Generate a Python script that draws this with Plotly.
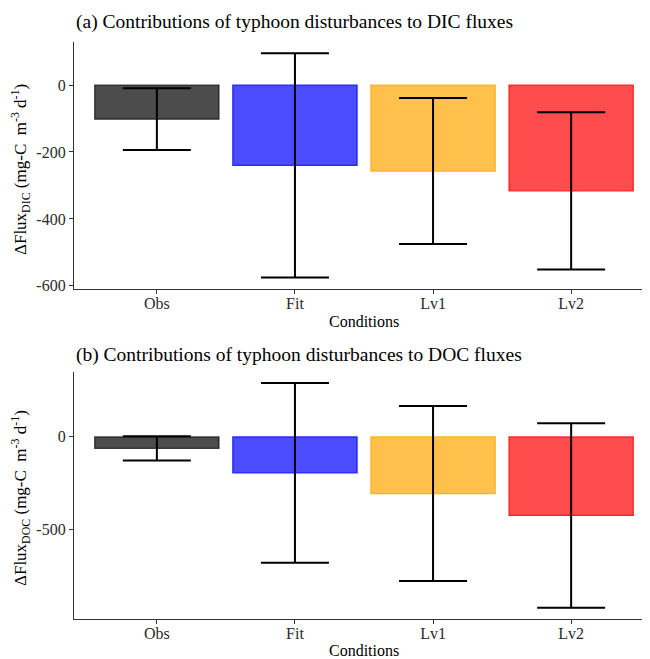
import plotly.graph_objects as go
from plotly.subplots import make_subplots

conditions = ["Obs", "Fit", "Lv1", "Lv2"]
dic_mean = [-102, -240, -257, -316]
dic_sd = [92, 335, 218, 235]
doc_mean = [-62, -194, -306, -424]
doc_sd = [66, 485, 472, 498]
fill_colors = ["rgba(0,0,0,0.7)", "rgba(0,0,255,0.7)", "rgba(255,165,0,0.7)", "rgba(255,0,0,0.7)"]
line_colors = ["rgba(0,0,0,0.7)", "rgba(0,0,255,0.8)", "rgba(255,165,0,0.8)", "rgba(255,0,0,0.8)"]
dic_ticks = [0, -200, -400, -600]
doc_ticks = [0, -500]

FONT = "Liberation Serif, Times New Roman, serif"

fig = make_subplots(rows=2, cols=1, vertical_spacing=0.1)

for row, means, sds in [(1, dic_mean, dic_sd), (2, doc_mean, doc_sd)]:
    fig.add_trace(go.Bar(
        x=conditions, y=means,
        marker=dict(color=fill_colors, line=dict(color=line_colors, width=1.2)),
        error_y=dict(type="data", array=sds, visible=True, color="black", thickness=2, width=34),
        showlegend=False,
    ), row=row, col=1)

def yrange(m, s):
    hi = max(a + b for a, b in zip(m, s))
    lo = min(a - b for a, b in zip(m, s))
    pad = (hi - lo) * 0.05
    return [lo - pad, hi + pad]

axis_common = dict(showline=True, linecolor="#333333", linewidth=1.2, ticks="outside",
                   ticklen=4, tickcolor="#333333", tickwidth=1.1, showgrid=False, zeroline=False,
                   automargin=False,
                   tickfont=dict(family=FONT, size=16, color="#2a2a2a"))

fig.update_xaxes(**axis_common, range=[-0.6, 3.571], ticklabelstandoff=-4)
fig.update_yaxes(**axis_common)
fig.update_yaxes(range=yrange(dic_mean, dic_sd), tickvals=dic_ticks,
                 ticktext=[str(v) for v in dic_ticks], row=1, col=1)
fig.update_yaxes(range=yrange(doc_mean, doc_sd), tickvals=doc_ticks,
                 ticktext=[str(v) for v in doc_ticks], row=2, col=1)

fig.layout.yaxis.domain = [0.5724, 1.0]
fig.layout.yaxis2.domain = [0.0, 0.4286]

# page body has an 8px default margin, so the figure is drawn 8px in from the window edge
OFF = 8
W, H = 650 - OFF, 659 - OFF
ml, mr, mt, mb = 74 - OFF, 0, 42 - OFF, 40
pw, ph = W - ml - mr, H - mt - mb

def px_to_paper_y(py):
    return (H - mb - (py - OFF)) / ph

def px_to_paper_x(px):
    return ((px - OFF) - ml) / pw

def ann(text, px, py, size, xanchor="center", angle=0):
    return dict(text=text, x=px_to_paper_x(px), y=px_to_paper_y(py), xref="paper", yref="paper",
                xanchor=xanchor, yanchor="middle", showarrow=False, textangle=angle,
                font=dict(family=FONT, size=size, color="black"))

annotations = [
    ann("(a) Contributions of typhoon disturbances to DIC fluxes", 74, 22, 19.5, "left"),
    ann("(b) Contributions of typhoon disturbances to DOC fluxes", 74, 355, 19.5, "left"),
    ann("ΔFlux<sub>DIC</sub> (mg-C  m<sup>-3</sup> d<sup>-1</sup>)", 20, 170, 17, angle=-90),
    ann("ΔFlux<sub>DOC</sub> (mg-C  m<sup>-3</sup> d<sup>-1</sup>)", 20, 498, 17, angle=-90),
    ann("Conditions", 364, 321, 16),
    ann("Conditions", 364, 650, 16),
]

fig.update_layout(
    width=W, height=H,
    margin=dict(l=ml, r=mr, t=mt, b=mb, autoexpand=False),
    paper_bgcolor="white", plot_bgcolor="white",
    bargap=0.1,
    font=dict(family=FONT, color="black"),
    annotations=annotations,
)

fig.write_html("out.html")
